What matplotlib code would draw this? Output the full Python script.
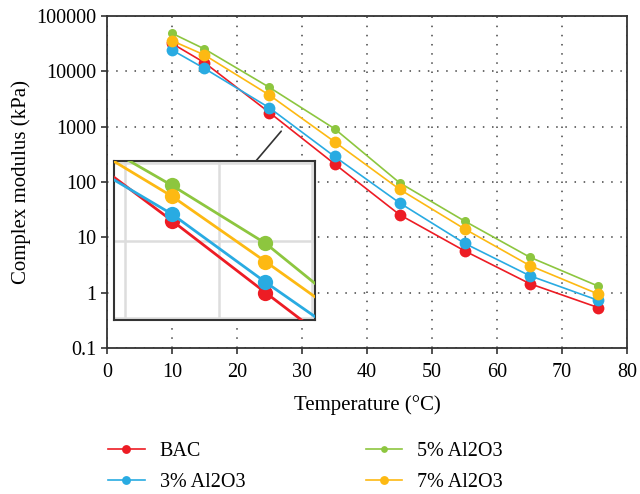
import numpy as np
import matplotlib
matplotlib.use("Agg")
import matplotlib.pyplot as plt
from matplotlib.patches import ConnectionPatch

# ─── Datos ────────────────────────────────────────────────────────────────────
temperature = [10, 15, 25, 35, 45, 55, 65, 75.5]

bac      = [32000, 14400, 1800, 213, 25.7, 5.7, 1.46, 0.54]
al2o3_3  = [24400, 11300, 2190, 290, 42, 7.8, 2.03, 0.73]
al2o3_5  = [48900, 25400, 5130, 920, 97, 19.7, 4.4, 1.32]
al2o3_7  = [35900, 19800, 3720, 535, 74, 14.2, 3.1, 0.95]

labels = ["BAC", "3% Al2O3", "5% Al2O3", "7% Al2O3"]
colors = ["#ED1C24", "#29ABE2", "#8DC63F", "#FDB913"]
series = [bac, al2o3_3, al2o3_5, al2o3_7]
marker_sizes = [8.5, 8.5, 6.5, 8.5]

y_ticks = [0.1, 1, 10, 100, 1000, 10000, 100000]
y_tick_labels = ["0.1", "1", "10", "100", "1000", "10000", "100000"]
x_ticks = list(range(0, 81, 10))

plt.rcParams["font.family"] = ["Liberation Serif", "DejaVu Serif"]

fig = plt.figure(figsize=(6.4, 4.94), dpi=100)
ax = fig.add_axes([0.167, 0.2955, 0.813, 0.672])

# ─── Curvas principales ──────────────────────────────────────────────────────
handles = []
for vals, color, ms, lab in zip(series, colors, marker_sizes, labels):
    h, = ax.plot(temperature, vals, "-o", color=color, lw=1.2,
                 markersize=ms, markeredgewidth=0, label=lab, zorder=3)
    handles.append(h)

ax.set_yscale("log")
ax.set_xlim(0, 80)
ax.set_ylim(0.1, 100000)
ax.set_xticks(x_ticks)
ax.set_yticks(y_ticks)
ax.set_yticklabels(y_tick_labels)
ax.minorticks_off()
ax.tick_params(labelsize=14.5, color="#333333", direction="out", length=4, width=1.2)
ax.tick_params(axis="x", pad=7)
ax.set_xlabel("Temperature (°C)", fontsize=15, labelpad=9)
ax.set_ylabel("Complex modulus (kPa)", fontsize=15, labelpad=4)
ax.grid(True, which="major", color="#444444", linestyle=(0, (1, 5)), lw=1.1)
for sp in ax.spines.values():
    sp.set_color("#333333")
    sp.set_linewidth(1.3)

# ─── Inset (zoom 25–35 °C) ───────────────────────────────────────────────────
axin = fig.add_axes([0.1775, 0.352, 0.314, 0.322])
for vals, color in zip(series, colors):
    axin.plot(temperature, vals, "-o", color=color, lw=2.0,
              markersize=11, markeredgewidth=0, zorder=3)
axin.set_yscale("log")
axin.set_xlim(18.75, 40.25)
axin.set_ylim(94, 10600)
axin.set_xticks([20, 30, 40])
axin.set_yticks([100, 1000, 10000])
axin.minorticks_off()
axin.tick_params(left=False, bottom=False, labelleft=False, labelbottom=False)
axin.grid(True, color="#DDDDDD", lw=1.8, linestyle="-")
axin.set_axisbelow(True)
for sp in axin.spines.values():
    sp.set_color("#333333")
    sp.set_linewidth(1.5)

con = ConnectionPatch(xyA=(0.708, 1.0), coordsA=axin.transAxes,
                      xyB=(26.8, 830), coordsB=ax.transData,
                      color="#333333", lw=1.2)
fig.add_artist(con)

# ─── Leyenda ─────────────────────────────────────────────────────────────────
fig.legend(handles=handles, labels=labels, ncol=2, loc="upper left",
           bbox_to_anchor=(0.141, 0.142), frameon=False, fontsize=14.5,
           handlelength=1.8, handletextpad=0.75, columnspacing=6.0,
           labelspacing=0.6, markerscale=0.75)

fig.savefig("out.png", dpi=100)
